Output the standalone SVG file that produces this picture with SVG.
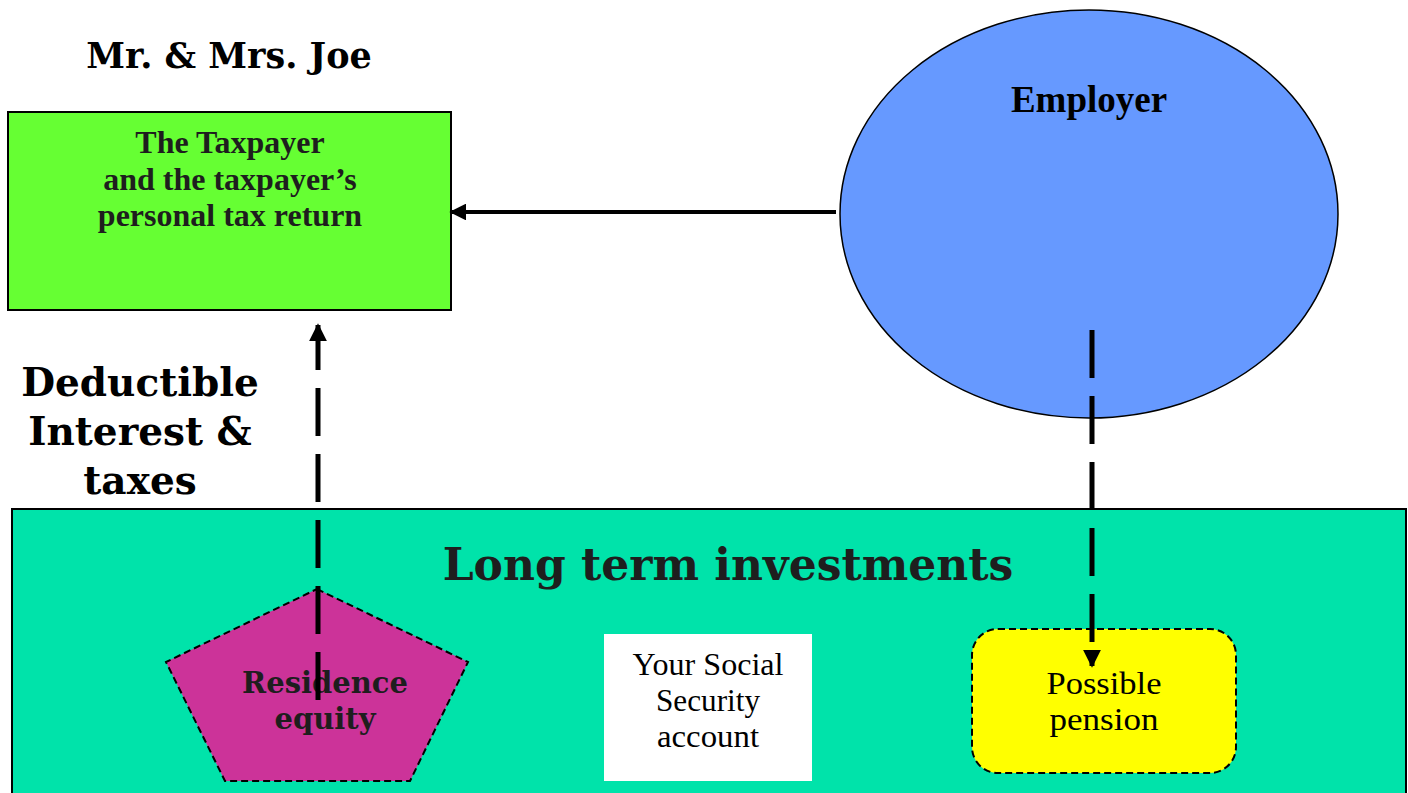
<svg xmlns="http://www.w3.org/2000/svg" width="1408" height="793" viewBox="0 0 1408 793">
<defs>
<style>
.georgia{font-family:"DejaVu Serif","Liberation Serif",serif;font-weight:bold;text-anchor:middle;fill:#000}
.times{font-family:"Liberation Serif","Times New Roman",serif;text-anchor:middle;fill:#000}
.tb{font-weight:bold}
.dark{fill:#1e1e1e}
.dash{stroke:#000;stroke-width:2;stroke-dasharray:7 4}
.conn{stroke:#000;fill:none}
</style>
<marker id="ah" viewBox="0 0 10 10" refX="9" refY="5" markerWidth="4.2" markerHeight="4.2" orient="auto" markerUnits="strokeWidth">
<path d="M0,0 L10,5 L0,10 z" fill="#000"/>
</marker>
<marker id="ah2" viewBox="0 0 10 10" refX="9" refY="5" markerWidth="3.6" markerHeight="3.6" orient="auto" markerUnits="strokeWidth">
<path d="M0,0 L10,5 L0,10 z" fill="#000"/>
</marker>
</defs>
<rect width="1408" height="793" fill="#fff"/>

<g id="label-owner">
<text class="georgia" x="229" y="68" font-size="35">Mr. &amp; Mrs. Joe</text>
</g>

<g id="taxpayer">
<rect x="8" y="112" width="443" height="198" fill="#66FF33" stroke="#000" stroke-width="2"/>
<text class="times tb dark" x="230" y="153" font-size="32">The Taxpayer</text>
<text class="times tb dark" x="230" y="190" font-size="32">and the taxpayer’s</text>
<text class="times tb dark" x="230" y="226" font-size="32">personal tax return</text>
</g>

<g id="employer">
<ellipse cx="1089" cy="214" rx="249" ry="204" fill="#6699FF" stroke="#000" stroke-width="1.5"/>
<text class="times tb" x="1089" y="112" font-size="37">Employer</text>
</g>

<g id="label-deductible">
<text class="georgia" x="140" y="396" font-size="39">Deductible</text>
<text class="georgia" x="140" y="445" font-size="39">Interest &amp;</text>
<text class="georgia" x="140" y="494" font-size="39">taxes</text>
</g>

<g id="investments">
<rect x="12" y="509" width="1394" height="300" fill="#00E3AA" stroke="#000" stroke-width="2"/>
<text class="georgia dark" x="728" y="580" font-size="44">Long term investments</text>
</g>

<g id="residence">
<polygon points="317,589 468,662 410,781 225,781 166,662" fill="#CC3399" class="dash"/>
<text class="georgia dark" x="325" y="693" font-size="29">Residence</text>
<text class="georgia dark" x="325" y="729" font-size="29">equity</text>
</g>

<g id="social-security">
<rect x="604" y="634" width="208" height="147" fill="#fff"/>
<text class="times" x="708" y="675" font-size="32" textLength="151" lengthAdjust="spacingAndGlyphs">Your Social</text>
<text class="times" x="708" y="711" font-size="32" textLength="104" lengthAdjust="spacingAndGlyphs">Security</text>
<text class="times" x="708" y="747" font-size="32" textLength="102" lengthAdjust="spacingAndGlyphs">account</text>
</g>

<g id="pension">
<rect x="972" y="629" width="264" height="144" rx="26" ry="26" fill="#FFFF00" class="dash"/>
<text class="times" x="1104" y="694" font-size="32" textLength="115" lengthAdjust="spacingAndGlyphs">Possible</text>
<text class="times" x="1104" y="730" font-size="32" textLength="109" lengthAdjust="spacingAndGlyphs">pension</text>
</g>

<g id="connectors">
<line class="conn" x1="836" y1="212" x2="451" y2="212" stroke-width="4" marker-end="url(#ah)"/>
<line class="conn" x1="318" y1="700" x2="318" y2="325" stroke-width="5" stroke-dasharray="48 18" marker-end="url(#ah2)"/>
<line class="conn" x1="1092" y1="330" x2="1092" y2="666" stroke-width="5" stroke-dasharray="48 18" marker-end="url(#ah2)"/>
</g>
</svg>
